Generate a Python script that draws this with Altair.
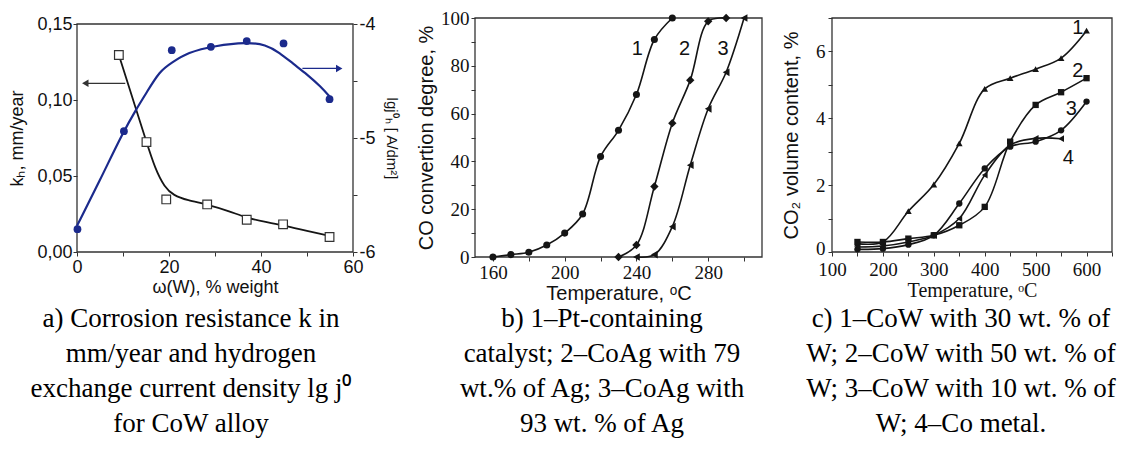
import altair as alt
import pandas as pd

# ---------------- panel a: corrosion rate and lg j0 vs W content ----------------
a_k_x = [9.1, 15.1, 19.4, 28.3, 36.9, 44.8, 54.9]
a_k_y = [0.1296, 0.0723, 0.0346, 0.0313, 0.0212, 0.0182, 0.0099]
a_j_x = [0.1, 10.2, 20.6, 29.1, 36.9, 44.9, 54.9]
a_j_y = [-5.80, -4.94, -4.23, -4.20, -4.15, -4.17, -4.66]
# fitted curves
a_kfit_x = [9.1, 12, 15.1, 17, 19, 21, 24, 28.3, 33, 37, 41, 45, 50, 55]
a_kfit_y = [0.1296, 0.102, 0.0723, 0.0547, 0.0427, 0.0372, 0.034, 0.0313, 0.027,
            0.0223, 0.0197, 0.0175, 0.0138, 0.0105]
a_jfit_x = [0, 5, 10, 13, 15, 18, 20.6, 24, 30, 37, 41, 44, 47, 50, 53, 55]
a_jfit_y = [-5.77, -5.37, -4.95, -4.74, -4.61, -4.41, -4.34, -4.25, -4.19, -4.16,
            -4.18, -4.25, -4.35, -4.44, -4.55, -4.64]
# arrows: [x from, x to, y]
a_arrow_k = [10.5, 1.8, 0.111]
a_arrow_j = [49.0, 57.0, -4.39]
# frame boxes in data units: [x0, x1, y0, y1]
a_frame = [0, 60, 0, 0.15]
b_frame = [150, 310, 0, 100]
c_frame = [100, 650, 0, 7]

# ---------------- panel b: CO conversion degree ----------------
b1_x = [160, 170, 180, 190, 200, 210, 220, 230, 240, 250, 260]
b1_y = [0, 1, 2, 5, 10, 18, 42, 53, 68, 91, 100]
b2_x = [230, 240, 250, 260, 270, 280, 290]
b2_y = [0, 5, 29.5, 56, 74, 98.6, 100]
b3_x = [240, 250, 260, 270, 280, 290, 300]
b3_y = [0, 1, 12.7, 38.4, 62, 77.3, 100]
b_lab_text = ["1", "2", "3"]
b_lab_x = [240.5, 266.8, 288.3]
b_lab_y = [87, 87, 87]

# ---------------- panel c: CO2 volume content ----------------
c_x = [150, 200, 250, 300, 350, 400, 450, 500, 550, 600]
c1_y = [0.25, 0.3, 1.22, 2.02, 3.25, 4.88, 5.2, 5.47, 5.8, 6.62]
c2_y = [0.3, 0.3, 0.4, 0.5, 0.8, 1.35, 3.3, 4.4, 4.78, 5.2]
c3_y = [0.08, 0.1, 0.22, 0.5, 1.45, 2.5, 3.15, 3.3, 3.64, 4.5]
c4_x = [150, 200, 250, 300, 350, 400, 450, 500, 550]
c4_y = [0.15, 0.18, 0.3, 0.5, 1.0, 2.3, 3.2, 3.4, 3.39]
c_lab_text = ["1", "2", "3", "4"]
c_lab_x = [583, 583, 570, 564]
c_lab_y = [6.7, 5.4, 4.27, 2.8]

captions = [
    ["a) Corrosion resistance k in", "mm/year and hydrogen",
     "exchange current density lg j⁰", "for CoW alloy"],
    ["b) 1–Pt-containing", "catalyst; 2–CoAg with 79",
     "wt.% of Ag; 3–CoAg with", "93 wt. % of Ag"],
    ["c) 1–CoW with 30 wt. % of", "W; 2–CoW with 50 wt. % of",
     "W; 3–CoW with 10 wt. % of", "W; 4–Co metal."],
]

SANS = "Liberation Sans"
SERIF = "Liberation Serif"
BLACK = "#151515"
BLUE = "#1b2a8c"
FRAME = "#333333"
CAP_Y = 288  # caption top, measured from each panel's plot origin


def ax(**kw):
    base = dict(grid=False, domain=False, tickColor=FRAME, tickSize=4,
                labelFlush=False, labelOverlap=False, labelColor="#111111",
                titleColor="#111111", titleFontWeight="normal", labelPadding=2)
    base.update(kw)
    return alt.Axis(**base)


def caption(lines, xpos):
    return alt.Chart(pd.DataFrame({"t": ["\n".join(lines)]})).mark_text(
        font=SERIF, fontSize=27, lineHeight=35, lineBreak="\n", align="center",
        baseline="top", color="#000000").encode(
        text="t:N", x=alt.value(xpos), y=alt.value(CAP_Y))


def frame_box(box, x_enc, y_enc):
    d = pd.DataFrame({"x": [box[0]], "x2": [box[1]], "y": [box[2]], "y2": [box[3]]})
    return alt.Chart(d).mark_rect(fill="transparent", stroke=FRAME, strokeWidth=1.3).encode(
        x=x_enc, x2="x2:Q", y=y_enc, y2="y2:Q")


# ---------- panel a ----------
A_W, A_H = 276, 234
a_x_axis = ax(values=list(range(0, 61, 10)),
              labelExpr="datum.value % 20 == 0 ? datum.label : ''",
              title="ω(W), % weight", labelFont=SANS, labelFontSize=18,
              titleFont=SANS, titleFontSize=18, titlePadding=2)
a_x_scale = alt.Scale(domain=[0, 60], nice=False, zero=False)


def xa(field):
    return alt.X(field, type="quantitative", scale=a_x_scale, axis=a_x_axis)


ya_axis = ax(values=[0, 0.05, 0.10, 0.15],
             labelExpr="replace(format(datum.value, '.2f'), '.', ',')",
             title="kₕ, mm/year", labelFont=SANS, labelFontSize=18,
             titleFont=SANS, titleFontSize=18, titlePadding=10, labelPadding=1)
ya_scale = alt.Scale(domain=[0, 0.15], nice=False, range=[A_H, 6])


def ya(field):
    return alt.Y(field, type="quantitative", scale=ya_scale, axis=ya_axis)


yj = alt.Y("y:Q", scale=alt.Scale(domain=[-6, -4], nice=False, zero=False, range=[A_H, 6]),
           axis=ax(orient="right", values=[-6, -5.5, -5, -4.5, -4],
                   labelExpr="datum.value % 1 == 0 ? '' + datum.value : ''",
                   title="lgj⁰ₕ [ A/dm²]", labelFont=SANS, labelFontSize=18,
                   titleFont=SANS, titleFontSize=15, titlePadding=8))

df_k = pd.DataFrame({"x": a_k_x, "y": a_k_y})
df_kfit = pd.DataFrame({"x": a_kfit_x, "y": a_kfit_y})
df_j = pd.DataFrame({"x": a_j_x, "y": a_j_y})
df_jfit = pd.DataFrame({"x": a_jfit_x, "y": a_jfit_y})
df_ak = pd.DataFrame({"x": [a_arrow_k[0]], "x2": [a_arrow_k[1]], "y": [a_arrow_k[2]]})
df_aj = pd.DataFrame({"x": [a_arrow_j[0]], "x2": [a_arrow_j[1]], "y": [a_arrow_j[2]]})

left = alt.layer(
    frame_box(a_frame, xa("x"), ya("y")),
    alt.Chart(df_kfit).mark_line(interpolate="basis", color=BLACK, strokeWidth=1.8)
    .encode(x=xa("x"), y=ya("y")),
    alt.Chart(df_k).mark_point(shape="square", filled=True, fill="white", stroke=FRAME,
                               strokeWidth=1.2, size=75, opacity=1)
    .encode(x=xa("x"), y=ya("y")),
    alt.Chart(df_ak).mark_rule(color=FRAME, strokeWidth=1.3)
    .encode(x=xa("x"), x2="x2:Q", y=ya("y")),
    alt.Chart(df_ak).mark_point(shape="triangle-left", filled=True, color=FRAME, size=55,
                                opacity=1)
    .encode(x=xa("x2"), y=ya("y")),
    caption(captions[0], 190 - 76),
)
right = alt.layer(
    alt.Chart(df_jfit).mark_line(interpolate="basis", color=BLUE, strokeWidth=2.2)
    .encode(x=xa("x"), y=yj),
    alt.Chart(df_j).mark_point(shape="circle", filled=True, color=BLUE, size=60, opacity=1)
    .encode(x=xa("x"), y=yj),
    alt.Chart(df_aj).mark_rule(color=BLUE, strokeWidth=1.3)
    .encode(x=xa("x"), x2="x2:Q", y=yj),
    alt.Chart(df_aj).mark_point(shape="triangle-right", filled=True, color=BLUE, size=55,
                                opacity=1)
    .encode(x=xa("x2"), y=yj),
)
panel_a = alt.layer(left, right).resolve_scale(y="independent").properties(
    width=A_W, height=A_H)

# ---------- panel b ----------
b_x_scale = alt.Scale(domain=[150, 310], nice=False, zero=False)
b_x_axis = ax(values=list(range(160, 301, 20)),
              labelExpr="(datum.value - 160) % 40 == 0 ? datum.label : ''",
              title="Temperature, ᵒC", labelFont=SERIF, labelFontSize=19,
              titleFont=SANS, titleFontSize=20, titlePadding=1)
xb = alt.X("x:Q", scale=b_x_scale, axis=b_x_axis)
yb = alt.Y("y:Q", scale=alt.Scale(domain=[0, 100], nice=False),
           axis=ax(values=list(range(0, 101, 10)),
                   labelExpr="datum.value % 20 == 0 ? datum.label : ''",
                   title="CO convertion degree, %", labelFont=SERIF, labelFontSize=19,
                   titleFont=SANS, titleFontSize=20, titlePadding=4))

b_series = [
    (b1_x, b1_y, "circle", 50),
    (b2_x, b2_y, "diamond", 70),
    (b3_x, b3_y, "triangle-left", 60),
]
b_layers = [frame_box(b_frame, xb, yb)]
for xs, ys, shp, sz in b_series:
    d = pd.DataFrame({"x": xs, "y": ys})
    b_layers.append(alt.Chart(d).mark_line(interpolate="catmull-rom", color=BLACK,
                                           strokeWidth=1.6).encode(x=xb, y=yb))
    b_layers.append(alt.Chart(d).mark_point(shape=shp, filled=True, color=BLACK, size=sz,
                                            opacity=1).encode(x=xb, y=yb))
df_blab = pd.DataFrame({"x": b_lab_x, "y": b_lab_y, "t": b_lab_text})
b_layers.append(alt.Chart(df_blab).mark_text(font=SANS, fontSize=20, color="#111111")
                .encode(x=xb, y=yb, text="t:N"))
b_layers.append(caption(captions[1], 603 - 476))
panel_b = alt.layer(*b_layers).properties(width=287, height=239)

# ---------- panel c ----------
c_x_scale = alt.Scale(domain=[100, 650], nice=False, zero=False)
c_x_axis = ax(values=list(range(100, 651, 50)),
              labelExpr="datum.value % 100 == 0 ? datum.label : ''",
              title="Temperature, ᵒC", labelFont=SERIF, labelFontSize=19,
              titleFont=SERIF, titleFontSize=20, titlePadding=1, labelPadding=4)
xc = alt.X("x:Q", scale=c_x_scale, axis=c_x_axis)
yc = alt.Y("y:Q", scale=alt.Scale(domain=[0, 7], nice=False),
           axis=ax(values=list(range(0, 8)),
                   labelExpr="datum.value % 2 == 0 ? datum.label : ''",
                   labelOffset={"condition": {"test": "datum.value == 0", "value": -4},
                                "value": 0},
                   title="CO₂ volume content, %", labelFont=SERIF, labelFontSize=19,
                   titleFont=SANS, titleFontSize=20, titlePadding=14, labelPadding=3))

c_series = [
    (c_x, c1_y, "triangle-up", 45),
    (c_x, c2_y, "square", 40),
    (c_x, c3_y, "circle", 40),
    (c4_x, c4_y, "triangle-left", 45),
]
c_layers = [frame_box(c_frame, xc, yc)]
for xs, ys, shp, sz in c_series:
    d = pd.DataFrame({"x": xs, "y": ys})
    c_layers.append(alt.Chart(d).mark_line(interpolate="catmull-rom", color=BLACK,
                                           strokeWidth=1.6).encode(x=xc, y=yc))
    c_layers.append(alt.Chart(d).mark_point(shape=shp, filled=True, color=BLACK, size=sz,
                                            opacity=1).encode(x=xc, y=yc))
df_clab = pd.DataFrame({"x": c_lab_x, "y": c_lab_y, "t": c_lab_text})
c_layers.append(alt.Chart(df_clab).mark_text(font=SANS, fontSize=20, color="#111111")
                .encode(x=xc, y=yc, text="t:N"))
c_layers.append(caption(captions[2], 962 - 833))
panel_c = alt.layer(*c_layers).properties(width=280, height=234)

chart = alt.hconcat(panel_a, panel_b, panel_c, spacing=17).properties(
    padding=0, background="white"
).configure_view(stroke="transparent")

chart.save("out.html", embed_options={"renderer": "svg", "actions": False})
